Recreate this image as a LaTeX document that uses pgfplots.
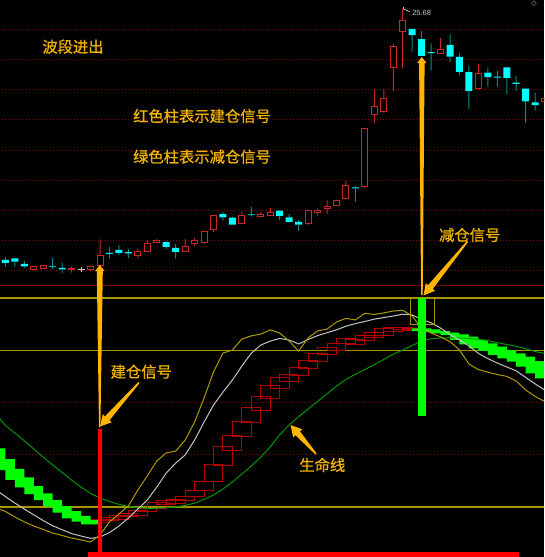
\documentclass[border=0pt]{standalone}
\usepackage{pgfplots}
\pgfplotsset{compat=1.18}
\usepackage{pgfplotstable}
\usepackage{fontspec}
\setmainfont{Liberation Sans}
\newfontfamily\cjk[FakeBold=1]{Noto Sans CJK SC}
\newfontfamily\symbolfont{DejaVu Sans}

\definecolor{upred}{RGB}{205,38,38}
\definecolor{downcyan}{RGB}{0,255,255}
\definecolor{wickcyan}{RGB}{0,140,140}
\definecolor{flatgray}{RGB}{200,200,200}
\definecolor{gridred}{RGB}{125,0,0}
\definecolor{boxred}{RGB}{180,0,0}
\definecolor{barred}{RGB}{255,0,0}
\definecolor{bargreen}{RGB}{0,255,0}
\definecolor{lifegreen}{RGB}{0,150,0}
\definecolor{lineyellow}{RGB}{175,155,0}
\definecolor{linewhite}{RGB}{195,195,195}
\definecolor{levelyellow}{RGB}{165,150,0}
\definecolor{gold}{RGB}{240,178,0}
\definecolor{arrowgold}{RGB}{255,180,0}

% rising candles: index, open, high, low, close
\pgfplotstableread{
i o h l c
3 17.03 17.18 17.02 17.15
4 17.07 17.18 17.06 17.16
7 17.03 17.15 16.94 17.07
9 17.03 17.16 16.98 17.15
10 17.19 18.04 17.16 17.51
14 17.51 17.73 17.42 17.65
15 17.65 18.01 17.64 17.91
16 17.94 18.05 17.92 18.02
19 17.65 18.05 17.64 17.81
20 17.89 18.09 17.82 17.99
21 17.93 18.32 17.89 18.31
22 18.36 18.85 18.29 18.84
25 18.57 18.94 18.57 18.82
27 18.79 18.95 18.77 18.87
28 18.84 19.08 18.83 18.94
32 18.57 19.01 18.52 19.00
33 18.94 19.07 18.83 19.01
34 19.05 19.33 18.89 19.12
35 19.17 19.34 19.16 19.33
36 19.38 19.97 19.37 19.83
38 19.79 21.73 19.75 21.71
39 22.18 22.99 21.90 22.45
40 22.27 23.02 22.24 22.72
41 23.74 24.51 22.96 24.43
42 24.92 25.68 23.70 25.29
46 24.19 24.71 24.18 24.34
50 23.02 23.85 23.00 23.54
57 22.62 22.75 22.60 22.72
}\upK

% falling candles
\pgfplotstableread{
i o h l c
0 17.36 17.46 17.13 17.26
1 17.41 17.42 17.13 17.30
2 17.23 17.32 17.10 17.15
5 17.15 17.42 17.05 17.12
6 17.10 17.27 16.92 17.05
11 17.59 17.78 17.41 17.56
12 17.69 17.85 17.52 17.59
13 17.62 17.73 17.42 17.58
17 17.95 17.99 17.72 17.79
18 17.76 17.89 17.41 17.63
23 18.88 18.94 18.66 18.77
24 18.76 18.79 18.52 18.53
26 18.87 19.12 18.79 18.84
29 18.99 19.00 18.69 18.82
30 18.77 18.88 18.60 18.62
31 18.62 18.68 18.33 18.53
37 19.76 19.81 19.29 19.73
43 25.01 25.01 24.26 24.80
44 24.67 24.94 24.11 24.12
45 24.24 24.53 23.63 24.21
47 24.48 24.84 23.92 24.09
48 24.08 24.20 23.49 23.59
49 23.58 23.78 22.36 22.96
51 23.56 23.73 23.10 23.41
52 23.43 23.62 23.10 23.40
53 23.74 23.75 22.85 23.39
54 23.23 23.45 22.96 23.19
55 23.03 23.04 21.90 22.61
56 22.58 22.89 22.30 22.49
}\downK

% unchanged candle
\pgfplotstableread{
i o h l c
8 17.06 17.13 16.96 17.03
}\flatK

% stacked segments of each candle: lower wick, body, upper wick
\newcommand\splitcandles[1]{%
  \pgfplotstablecreatecol[expr={min(\thisrow{o},\thisrow{c})-\thisrow{l}}]{lw}#1%
  \pgfplotstablecreatecol[expr={abs(\thisrow{c}-\thisrow{o})}]{bd}#1%
  \pgfplotstablecreatecol[expr={\thisrow{h}-max(\thisrow{o},\thisrow{c})}]{uw}#1%
}
\splitcandles\upK
\splitcandles\downK
\splitcandles\flatK

% indicator lines: fast (yellow), slow (white), life line (green)
\pgfplotstableread{
i yel wht grn
-1 19.6 26.5 55.6
0 18.3 24.0 51.2
1 16.2 21.5 48.3
2 14.3 19.2 45.3
3 12.7 17.0 42.2
4 11.4 14.8 39.1
5 10.0 12.8 36.1
6 9.1 11.3 33.2
7 8.1 9.8 30.3
8 7.4 8.9 27.6
9 6.6 8.0 25.2
10 9.3 8.5 23.4
11 14.3 10.2 22.1
12 17.3 12.7 21.0
13 20.4 15.8 20.2
14 26.5 19.2 19.7
15 31.9 22.7 19.5
16 37.6 27.6 19.5
17 40.7 33.0 19.7
18 41.4 36.8 20.0
19 45.6 39.9 20.6
20 52.5 45.6 21.5
21 61.7 52.5 22.9
22 71.7 59.0 24.6
23 78.9 64.0 26.9
24 80.1 68.6 29.6
25 84.3 74.0 32.6
26 85.5 78.9 35.7
27 86.2 82.0 39.1
28 87.8 83.5 43.0
29 86.6 84.5 47.7
30 83.5 83.9 51.4
31 79.7 82.4 54.6
32 84.7 84.1 57.5
33 87.4 85.6 60.4
34 88.1 86.7 63.3
35 90.8 87.8 66.3
36 92.2 89.2 68.8
37 91.6 90.2 70.8
38 94.1 91.0 72.6
39 93.7 91.9 74.5
40 94.3 92.5 76.5
41 95.0 93.1 78.5
42 95.3 93.8 80.1
43 93.1 93.5 81.8
44 88.3 91.8 83.5
45 86.6 90.5 84.4
46 85.1 88.5 84.7
47 83.3 86.0 84.8
48 80.1 83.9 84.7
49 74.7 81.7 84.5
50 72.6 78.8 84.2
51 71.6 76.8 83.7
52 70.7 75.1 82.9
53 70.0 73.6 82.2
54 68.2 72.1 81.5
55 64.8 69.6 80.6
56 62.3 67.1 79.5
57 60.4 64.8 78.8
}\lines

% hollow red position columns: index, low, high
\pgfplotstableread{
i lo hi
10 13.98 15.28
11 14.75 16.05
12 15.40 16.93
13 16.28 17.58
14 16.93 18.57
15 18.19 19.49
16 19.49 21.64
17 20.76 22.67
18 21.41 23.05
19 22.67 24.20
20 23.93 26.23
21 26.23 29.68
22 29.68 36.45
23 36.07 43.34
24 41.43 47.55
25 46.79 52.91
26 52.15 58.27
27 57.12 62.48
28 61.60 66.69
29 65.43 69.49
30 67.96 70.79
31 70.52 73.58
32 73.09 76.26
33 75.61 78.83
34 78.18 80.97
35 80.09 82.65
36 82.65 84.57
37 82.27 83.92
38 83.65 85.45
39 84.80 86.71
40 85.83 88.13
41 87.10 88.63
42 87.75 88.63
43 87.56 88.51
}\redbox

% filled green reduction columns
\pgfplotstableread{
i lo hi
-1 37.98 42.46
0 34.15 38.36
1 30.33 34.54
2 27.53 31.36
3 24.97 28.03
4 22.67 25.23
5 20.11 22.67
6 17.81 20.37
7 15.67 18.46
8 14.36 16.55
9 13.37 15.01
44 87.36 88.40
45 86.98 88.01
46 86.48 87.36
47 85.83 86.71
48 83.92 86.10
49 82.27 85.18
50 80.74 83.92
51 79.71 82.65
52 78.18 81.35
53 76.91 80.09
54 75.61 78.83
55 73.70 77.53
56 71.17 75.88
57 69.26 73.97
}\greenbox
\pgfplotstablecreatecol[expr={\thisrow{hi}-\thisrow{lo}}]{ht}\redbox
\pgfplotstablecreatecol[expr={\thisrow{hi}-\thisrow{lo}}]{ht}\greenbox

\pgfplotsset{
  panel/.style={scale only axis, width=544pt, xmin=-0.571, xmax=56.935,
    hide axis, clip=true},
  pricepanel/.style={panel, at={(0pt,271pt)}, anchor=south west, height=286pt,
    ymin=16.497, ymax=25.967},
  indpanel/.style={panel, at={(0pt,0pt)}, anchor=south west, height=271pt,
    ymin=0.855, ymax=104.59},
}

% one candle class: invisible base, lower wick, body, upper wick
\newcommand\candles[3]{%
  \addplot[draw=none, fill=none, bar width=1pt] table[x=i, y=l] {#1};
  \addplot[draw=none, fill=#2, bar width=1pt] table[x=i, y=lw] {#1};
  \addplot[#3] table[x=i, y=bd] {#1};
  \addplot[draw=none, fill=#2, bar width=1pt] table[x=i, y=uw] {#1};
}

\begin{document}
\begin{tikzpicture}
\useasboundingbox (0,0) rectangle (544pt,557pt);
\fill[black] (0,0) rectangle (544pt,557pt);

% ---------- price panel ----------
\begin{axis}[pricepanel]
\pgfplotsinvokeforeach{17,...,25}{
  \addplot[gridred, dash pattern=on 1pt off 2pt, line width=0.8pt] coordinates {(-1,#1) (58,#1)};
}
\draw[gridred, line width=1.2pt] (rel axis cs:0,0) -- (rel axis cs:1,0);
\end{axis}

\begin{axis}[pricepanel, ybar stacked]
\candles{\upK}{upred}{draw=upred, fill=black, line width=1pt, bar width=6pt}
\draw[flatgray, line width=0.7pt] ([xshift=0.8pt,yshift=1.5pt]axis cs:42,25.68)
  -- ([xshift=0.8pt,yshift=-0.3pt]axis cs:42,25.68) -- ([xshift=7pt,yshift=-3pt]axis cs:42,25.68);
\node[anchor=west, text=flatgray, font=\fontsize{7.5}{9}\selectfont, inner sep=0pt,
  xshift=9.4pt, yshift=-4.2pt] at (axis cs:42,25.68) {25.68};
\end{axis}

\begin{axis}[pricepanel, ybar stacked]
\candles{\downK}{wickcyan}{draw=none, fill=downcyan, bar width=7pt}
\end{axis}

\begin{axis}[pricepanel, ybar stacked]
\candles{\flatK}{flatgray}{draw=none, fill=flatgray, bar width=7pt}
\end{axis}

% ---------- indicator panel ----------
\begin{axis}[indpanel]
\addplot[gridred, dash pattern=on 1pt off 2pt, line width=0.8pt] coordinates {(-1,40) (58,40)};
\addplot[gridred, dash pattern=on 1pt off 2pt, line width=0.8pt] coordinates {(-1,60) (58,60)};
\addplot[levelyellow, line width=1.2pt] coordinates {(-1,20) (58,20)};
\addplot[levelyellow, line width=1.2pt] coordinates {(-1,80) (58,80)};
\addplot[levelyellow, line width=1.2pt] coordinates {(-1,100) (58,100)};
\end{axis}

% hollow position columns, two cells wide
\begin{axis}[indpanel, ybar stacked]
\addplot[draw=none, fill=none, bar width=18.92pt] table[x=i, y=lo] {\redbox};
\addplot[draw=boxred, fill=none, line width=1pt, bar width=18.92pt] table[x=i, y=ht] {\redbox};
\end{axis}

% filled reduction columns
\begin{axis}[indpanel, ybar stacked]
\addplot[draw=none, fill=none, bar width=18.92pt] table[x=i, y=lo] {\greenbox};
\addplot[draw=none, fill=bargreen, bar width=18.92pt] table[x=i, y=ht] {\greenbox};
\end{axis}

\begin{axis}[indpanel]
\addplot[lifegreen, line width=1pt] table[x=i, y=grn] {\lines};
\addplot[linewhite, line width=1pt] table[x=i, y=wht] {\lines};
\addplot[lineyellow, line width=1pt] table[x=i, y=yel] {\lines};
\addplot[levelyellow, line width=1pt] coordinates {(42.77,90) (45.31,90) (45.31,100) (42.77,100)} -- cycle;
\addplot[barred, line width=3.5pt] coordinates {(10,0) (10,50)};
\addplot[bargreen, line width=8pt] coordinates {(44,55) (44,100)};
\addplot[draw=none, fill=barred] coordinates {(8.73,0) (54.29,0) (54.29,2.65) (8.73,2.65)} -- cycle;
\end{axis}

% ---------- notes and arrows ----------
\begin{axis}[at={(0pt,0pt)}, anchor=south west, scale only axis, width=544pt, height=557pt,
  xmin=0, xmax=544, ymin=0, ymax=557, y dir=reverse, hide axis, clip=false]
\fill[arrowgold] (axis cs:99.8,265) -- (axis cs:104.5,271) -- (axis cs:102.8,271)
  -- (axis cs:100.4,427) -- (axis cs:99.0,427) -- (axis cs:96.8,271) -- (axis cs:95.1,271) -- cycle;
\fill[arrowgold] (axis cs:421.8,57) -- (axis cs:426.5,63) -- (axis cs:424.6,63)
  -- (axis cs:422.7,295) -- (axis cs:421.1,295) -- (axis cs:419.1,63) -- (axis cs:417.1,63) -- cycle;
\fill[arrowgold] (axis cs:100,426.5) -- (axis cs:111.77,422.22) -- (axis cs:109.52,420.23)
  -- (axis cs:139.6,383.03) -- (axis cs:138.4,381.97) -- (axis cs:105.02,416.27) -- (axis cs:102.77,414.28) -- cycle;
\fill[arrowgold] (axis cs:423.5,295.5) -- (axis cs:435.09,290.77) -- (axis cs:432.77,288.87)
  -- (axis cs:468.12,242.0) -- (axis cs:466.88,241.0) -- (axis cs:428.12,285.09) -- (axis cs:425.79,283.19) -- cycle;
\fill[arrowgold] (axis cs:290.5,425) -- (axis cs:302.28,429.32) -- (axis cs:300.02,431.3)
  -- (axis cs:316.6,453.47) -- (axis cs:315.4,454.53) -- (axis cs:295.5,435.26) -- (axis cs:293.24,437.24) -- cycle;
\begin{scope}[every node/.style={text=gold, inner sep=0pt, font=\cjk\fontsize{15.3}{18}\selectfont}]
\node at (axis cs:73,46.7) {波段进出};
\node at (axis cs:202,116) {红色柱表示建仓信号};
\node at (axis cs:202,156.7) {绿色柱表示减仓信号};
\node at (axis cs:469.7,235) {减仓信号};
\node at (axis cs:141.3,371.7) {建仓信号};
\node at (axis cs:322.3,465) {生命线};
\end{scope}
\node[text=flatgray, inner sep=0pt, font=\symbolfont\fontsize{7}{8}\selectfont] at (axis cs:534,4) {◇};
\end{axis}
\end{tikzpicture}
\end{document}
